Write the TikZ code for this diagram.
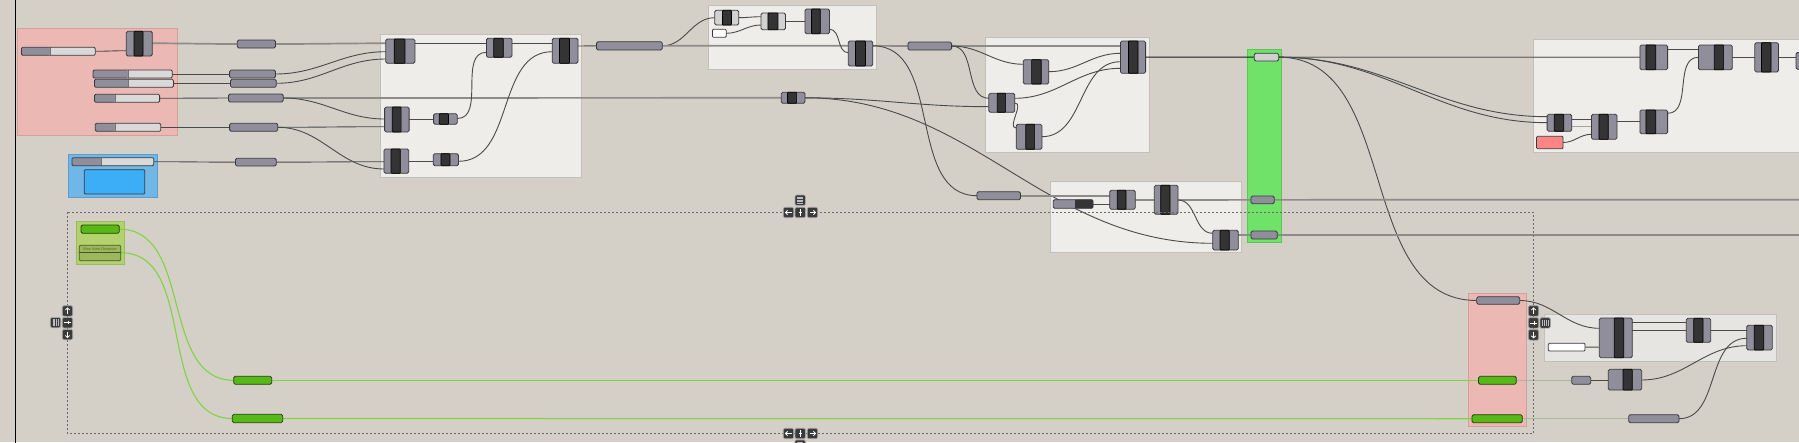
\documentclass[tikz,border=0pt]{standalone}
\usepackage{fontspec}
\setsansfont{Liberation Sans}
\definecolor{canvas}{HTML}{D4D0C8}
\definecolor{grpfill}{HTML}{EEEDE9}
\definecolor{grpline}{HTML}{C2C0BA}
\definecolor{grpsixfill}{HTML}{E6E5E1}
\definecolor{redfill}{HTML}{ECB8B4}
\definecolor{redline}{HTML}{D69F9A}
\definecolor{bluefill}{HTML}{70B6E6}
\definecolor{blueline}{HTML}{5A9ECF}
\definecolor{bluepanel}{HTML}{3CAEF7}
\definecolor{greenfill}{HTML}{70E26A}
\definecolor{greenline}{HTML}{5CC657}
\definecolor{olivefill}{HTML}{B3D26E}
\definecolor{oliveline}{HTML}{9CBB5E}
\definecolor{compside}{HTML}{8F8E9A}
\definecolor{compline}{HTML}{3A3A3E}
\definecolor{lightside}{HTML}{D2D2D2}
\definecolor{coredark}{HTML}{343434}
\definecolor{sliderlt}{HTML}{D9D9D9}
\definecolor{greenparam}{HTML}{56B915}
\definecolor{greenparamline}{HTML}{23400C}
\definecolor{gntwofill}{HTML}{9DB85C}
\definecolor{gntwoline}{HTML}{45552A}
\definecolor{gntwotext}{HTML}{55682E}
\definecolor{wirecol}{HTML}{4A4A4A}
\definecolor{listcol}{HTML}{8E8C88}
\definecolor{greenwire}{HTML}{80D43F}
\definecolor{fadecol}{HTML}{A9B896}
\definecolor{pinkpanel}{HTML}{FF8585}
\definecolor{navfill}{HTML}{3A3A3A}
\definecolor{navrim}{HTML}{A5A5A5}
\definecolor{dashcol}{HTML}{6A6A6A}
\definecolor{gonefill}{HTML}{D0D0D0}

\pgfdeclarelayer{bglayer}
\pgfdeclarelayer{wirelayer}
\pgfsetlayers{bglayer,wirelayer,main}

% generic rectangular node from corner coordinates
\newcommand\rnode[6][]{\node[#1, minimum width={(#5)-(#3)}, minimum height={(#6)-(#4)}] (#2) at ({((#3)+(#5))/2},{((#4)+(#6))/2}) {};}
% component with dark core
\newcommand\gcomp[8][compst]{\rnode[#1]{#2}{#3}{#4}{#5}{#6}\draw[corest] (#7,#4) rectangle (#8,#6);}
% slider
\newcommand\slider[6]{%
 \fill[sliderlt, rounded corners=1.2pt] (#2,#3) rectangle (#4,#5);
 \fill[compside, rounded corners=1.2pt] (#2,#3) rectangle (#6,#5);
 \draw[compline!70, line width=0.5pt] (#6,#3) -- (#6,#5);
 \rnode[sliderst]{#1}{#2}{#3}{#4}{#5}}
% navigation icons
\newcommand\navbox[4][navfill]{\node[navst, fill=#1] (#2) at ({#3+5.2},{#4+5.2}) {};}
\newcommand\gL[1]{\draw[glyphst] ([shift={(3,0)}]#1.center) -- ([shift={(-3,0)}]#1.center);
 \draw[glyphst] ([shift={(-0.9,-2.2)}]#1.center) -- ([shift={(-3,0)}]#1.center) -- ([shift={(-0.9,2.2)}]#1.center);}
\newcommand\gR[1]{\draw[glyphst] ([shift={(-3,0)}]#1.center) -- ([shift={(3,0)}]#1.center);
 \draw[glyphst] ([shift={(0.9,-2.2)}]#1.center) -- ([shift={(3,0)}]#1.center) -- ([shift={(0.9,2.2)}]#1.center);}
\newcommand\gU[1]{\draw[glyphst] ([shift={(0,3)}]#1.center) -- ([shift={(0,-3)}]#1.center);
 \draw[glyphst] ([shift={(-2.2,-0.9)}]#1.center) -- ([shift={(0,-3)}]#1.center) -- ([shift={(2.2,-0.9)}]#1.center);}
\newcommand\gD[1]{\draw[glyphst] ([shift={(0,-3)}]#1.center) -- ([shift={(0,3)}]#1.center);
 \draw[glyphst] ([shift={(-2.2,0.9)}]#1.center) -- ([shift={(0,3)}]#1.center) -- ([shift={(2.2,0.9)}]#1.center);}
\newcommand\gV[1]{\draw[glyphst] ([shift={(0,-3.5)}]#1.center) -- ([shift={(0,3.5)}]#1.center);
 \draw[glyphst] ([shift={(-1.6,-0.6)}]#1.center) -- ([shift={(1.6,-0.6)}]#1.center);}
\newcommand\gH[1]{\draw[glyphst] ([shift={(-3.5,0)}]#1.center) -- ([shift={(3.5,0)}]#1.center);
 \draw[glyphst] ([shift={(0.6,-1.6)}]#1.center) -- ([shift={(0.6,1.6)}]#1.center);}
\newcommand\gM[1]{\foreach \d in {-3,-1.5,0,1.5,3}{\draw[glyphst, line width=0.45pt, draw=white!75!black] ([shift={(-3,\d)}]#1.center) -- ([shift={(3,\d)}]#1.center);}}
\newcommand\gB[1]{\foreach \d in {-2.7,-0.9,0.9,2.7}{\draw[glyphst, line width=0.5pt, draw=white!75!black] ([shift={(\d,-3.3)}]#1.center) -- ([shift={(\d,3.3)}]#1.center);}}

\begin{document}
\begin{tikzpicture}[x=1pt,y=-1pt,
 compst/.style={draw=compline, fill=compside, line width=0.8pt, rounded corners=1.5pt, inner sep=0pt, outer sep=0pt},
 lcompst/.style={compst, fill=lightside},
 corest/.style={draw=black, fill=coredark, line width=0.7pt, rounded corners=0.8pt},
 paramst/.style={draw=compline, fill=compside, line width=0.8pt, rounded corners=1.5pt, inner sep=0pt, outer sep=0pt},
 lparamst/.style={paramst, fill=gonefill},
 gparamst/.style={paramst, draw=greenparamline, fill=greenparam},
 sliderst/.style={draw=compline, line width=0.8pt, rounded corners=1.2pt, inner sep=0pt, outer sep=0pt},
 panelst/.style={draw=compline, line width=0.8pt, rounded corners=1pt, inner sep=0pt, outer sep=0pt},
 gntwost/.style={draw=gntwoline, fill=gntwofill, line width=0.8pt, rounded corners=1pt, inner sep=0pt, outer sep=0pt},
 grpgray/.style={fill=grpfill, draw=grpline, line width=0.9pt},
 grpred/.style={fill=redfill, draw=redline, line width=0.9pt},
 grpblue/.style={fill=bluefill, draw=blueline, line width=0.9pt},
 grpgreen/.style={fill=greenfill, draw=greenline, line width=0.9pt},
 grpolive/.style={fill=olivefill, draw=oliveline, line width=0.9pt},
 wire/.style={draw=wirecol, line width=0.9pt},
 lwire/.style={draw=listcol, line width=1.7pt},
 lwiretwo/.style={draw=listcol!85!black, line width=1.2pt},
 lwirethree/.style={draw=listcol!80!white, line width=1.2pt},
 blackwire/.style={draw=black!90, line width=1pt},
 gwire/.style={draw=greenwire, line width=1.1pt},
 fadewire/.style={draw=fadecol, line width=1.1pt},
 gh/.style={out=0,in=180},
 navst/.style={draw=navrim, line width=0.7pt, rounded corners=1.3pt, minimum size=10.4pt, inner sep=0pt},
 glyphst/.style={draw=white, line width=0.8pt},
 dashbox/.style={draw=dashcol, line width=0.8pt, dash pattern=on 2pt off 2pt}
]
\useasboundingbox (0,0) rectangle (1799,442);

\begin{pgfonlayer}{bglayer}
\fill[canvas] (0,0) rectangle (1799,442);
\draw[black, line width=1.5pt] (15.3,-2) -- (15.3,444);
% groups
\draw[grpred] (17.6,28) rectangle (177.6,135);
\draw[grpblue] (68.1,154) rectangle (157.7,197.5);
\draw[grpgray] (380,34.7) rectangle (581.3,177.3);
\draw[grpgray] (708.6,5.3) rectangle (876.6,69.3);
\draw[grpgray] (985.7,37.7) rectangle (1149.5,152.3);
\draw[grpgray] (1050,181.7) rectangle (1241.3,252.3);
\draw[grpgreen] (1247.5,49.3) rectangle (1281.8,242.7);
\draw[grpgray] (1533.3,39.3) rectangle (1812,152);
\draw[grpolive] (76.3,221.7) rectangle (124,264);
\draw[grpred] (1468.3,293.3) rectangle (1526,426.7);
\draw[grpgray, fill=grpsixfill] (1544.7,314.3) rectangle (1776.3,361);
\end{pgfonlayer}

% ---------- sliders ----------
\slider{SA}{21.4}{47.3}{95.3}{55.3}{49.8}
\slider{SB}{93}{70}{172.2}{78}{127.8}
\slider{SC}{94.5}{79.3}{173.4}{87.3}{128.6}
\slider{SD}{94.5}{94.3}{159.6}{102.3}{114.8}
\slider{SE}{95.3}{123.3}{160.8}{131.3}{114.8}
\slider{SF}{72}{157.7}{153.8}{165.7}{101.4}

% ---------- panels ----------
\rnode[panelst, fill=bluepanel]{BP}{84.2}{169.7}{144.7}{194}
\rnode[panelst, fill=white]{WA}{712.4}{29.3}{726.2}{37.3}
\rnode[panelst, fill=pinkpanel]{PK}{1536.5}{136.3}{1563}{148.7}
\rnode[panelst, fill=white]{WB}{1548.3}{343.3}{1585}{351}

% ---------- components ----------
\gcomp{boxA}{126.3}{31.3}{152.3}{56}{134}{143}
\gcomp{A}{385.8}{39}{414.9}{63.3}{394.2}{404.9}
\gcomp{B}{486.4}{38.3}{512}{57.3}{493.7}{503.3}
\gcomp{C}{552.2}{38.3}{578}{63.3}{559.5}{569.5}
\gcomp{D}{384.6}{107}{409.1}{132}{392.3}{401.1}
\gcomp{E}{433.6}{113.7}{457.3}{124.3}{439.3}{448.5}
\gcomp{F}{383.9}{149}{408.7}{173.3}{391}{400.3}
\gcomp{G}{433.2}{153.7}{458.5}{165.7}{440.9}{450}
\gcomp[lcompst]{H}{714.7}{10.3}{738.8}{25}{722.4}{731.5}
\gcomp[lcompst]{I}{761}{13}{785.5}{29.7}{767.9}{777.9}
\gcomp{J}{805}{9}{829.5}{33.7}{811.5}{820.3}
\gcomp{K}{848.3}{41}{872.8}{66}{855.5}{865.5}
\gcomp{L}{781.3}{92.3}{805}{103.3}{787.4}{796.6}
\gcomp{N}{1023.2}{59.7}{1048.8}{84}{1031.6}{1041.2}
\gcomp{M}{988.8}{93.3}{1014.8}{112.3}{997.1}{1005.6}
\gcomp{O}{1016.2}{124.3}{1041.9}{149.3}{1025.8}{1034.6}
\gcomp{Q}{1120.4}{41}{1145.6}{73.3}{1128.4}{1138}
\gcomp{AA}{1109.7}{190.3}{1135.3}{209.3}{1117.3}{1126}
\gcomp{BB}{1154.3}{185.3}{1178}{214.3}{1160.7}{1170}
\gcomp{CC}{1212.7}{230.3}{1238.3}{250}{1220}{1229.3}
\gcomp{S}{1547.1}{114.3}{1571.8}{131.3}{1554.3}{1563.7}
\gcomp{T}{1591.4}{114.3}{1617}{139.3}{1598.9}{1608.3}
\gcomp{U}{1639.9}{110}{1667.6}{133.7}{1645.9}{1655.7}
\gcomp{R}{1639.9}{45}{1667.6}{69.7}{1645.9}{1655.7}
\gcomp{V}{1698.4}{45}{1732.3}{69.7}{1714.1}{1723.6}
\gcomp{W}{1754.8}{42.7}{1778.5}{72}{1761.5}{1771}
\gcomp{X}{1796}{52.5}{1822}{69.3}{1804}{1813}
\gcomp{DD}{1599.3}{318}{1632.3}{357.7}{1614.3}{1623.7}
\gcomp{EE}{1686.3}{318.3}{1710.7}{342.3}{1693.7}{1703}
\gcomp{FF}{1746.7}{325.3}{1772.3}{350}{1754.3}{1763.7}
\gcomp{GG}{1608.3}{369.3}{1641.7}{390}{1623}{1632.3}

% ---------- parameters ----------
\rnode[paramst]{PA}{237.3}{40}{275.5}{48}
\rnode[paramst]{PB}{229.6}{70}{275.5}{78}
\rnode[paramst]{PC}{230.4}{79.3}{276.3}{87.3}
\rnode[paramst]{PD}{228.5}{94}{283.2}{102}
\rnode[paramst]{PE}{229.6}{123.3}{277.8}{131.3}
\rnode[paramst]{PF}{235.4}{158.3}{276.3}{166}
\rnode[paramst]{PG}{596.5}{41.7}{662.3}{50}
\rnode[paramst]{PH}{908}{42}{951.6}{50}
\rnode[paramst]{PI}{976.9}{191.7}{1020.5}{199.7}
\rnode[lparamst]{GA}{1254.2}{53.3}{1278.7}{61}
\rnode[paramst]{GB}{1251}{196}{1274.3}{203.7}
\rnode[paramst]{GC}{1251}{231}{1277.3}{239}
\rnode[paramst]{PPA}{1476.7}{296.7}{1519.7}{304.3}
\rnode[paramst]{SP}{1571.7}{376.3}{1590.7}{384.3}
\rnode[paramst]{HP}{1628.7}{414.7}{1679}{422.7}
\rnode[gparamst]{GNA}{81}{225}{119.3}{233.3}
\rnode[gparamst]{GPA}{233.7}{376.3}{271.7}{384.3}
\rnode[gparamst]{GPB}{232.3}{414.3}{282.7}{422.7}
\rnode[gparamst]{PPB}{1478.5}{376.3}{1516.3}{384.3}
\rnode[gparamst]{PPC}{1472}{414.7}{1522.3}{422.7}
% two-tone value parameter
\fill[compside, rounded corners=1.2pt] (1053.3,199.7) rectangle (1093,208.3);
\fill[coredark, rounded corners=1pt] (1075,199.7) rectangle (1093,208.3);
\rnode[sliderst]{Z}{1053.3}{199.7}{1093}{208.3}
% Max View Distance element
\rnode[gntwost]{GNB}{79.3}{245.3}{120.7}{260.7}
\draw[gntwoline, line width=0.8pt] (GNB.west |- 0,252.3) -- (GNB.east |- 0,252.3);
\node[font=\sffamily\fontsize{3.9}{4}\selectfont, text=gntwotext, inner sep=0pt] (GNBt) at (100,248.9) {Max View Distance};

% free ends at the right border
\coordinate (edgeB) at (1799,199.8);
\coordinate (edgeC) at (1799,235);

% ---------- wires ----------
\begin{pgfonlayer}{wirelayer}
\draw[wire] (SA.east) to[gh] (boxA.west |- 0,50.7);
\draw[lwire] (boxA.east |- 0,43.3) to[gh] (PA.west);
\draw[lwire] (PA.east) to[gh] (A.west |- 0,43.3);
\draw[wire] (SB.east) -- (PB.west);
\draw[wire] (SC.east) -- (PC.west);
\draw[wire] (PB.east) to[gh] (A.west |- 0,51.7);
\draw[wire] (PC.east) to[gh] (A.west |- 0,59);
\draw[wire] (SD.east) -- (PD.west);
\draw[lwire] (PD.east) -- (L.west);
\draw[wire] (PD.east) to[gh] (D.west |- 0,119);
\draw[wire] (SE.east) -- (PE.west);
\draw[wire] (PE.east) to[gh] (D.west |- 0,126.7);
\draw[wire] (PE.east) to[gh] (F.west |- 0,169);
\draw[wire] (SF.east) to[gh] (PF.west);
\draw[wire] (PF.east) to[gh] (F.west |- 0,161.7);
\draw[wire] (A.east |- 0,43.3) -- (B.west |- 0,43.3);
\draw[wire] (B.east |- 0,43.3) -- (C.west |- 0,43.3);
\draw[wire] (D.east |- 0,119) -- (E.west |- 0,119);
\draw[wire] (E.east |- 0,118.5) to[gh] (B.west |- 0,52.3);
\draw[wire] (F.east |- 0,161.7) -- (G.west |- 0,161.7);
\draw[wire] (G.east |- 0,161.3) to[gh] (C.west |- 0,51.7);
\draw[wire] (C.east |- 0,46) -- (PG.west);
\draw[wire] (PG.east) to[gh] (H.west |- 0,17.7);
\draw[lwire] (PG.east) -- (K.west |- 0,45.8);
\draw[wire] (H.east |- 0,17.7) to[gh] (I.west |- 0,16.7);
\draw[wire] (WA.east) to[gh] (I.west |- 0,25);
\draw[wire] (I.east |- 0,21.3) -- (J.west |- 0,21.3);
\draw[wire] (J.east |- 0,29.3) to[gh] (K.west |- 0,52.7);
\draw[lwire] (K.east |- 0,45.8) -- (PH.west);
\draw[wire] (K.east |- 0,45.8) to[gh] (PI.west);
\draw[lwire] (PH.east) -- (Q.west |- 0,46);
\draw[wire] (PH.east) to[gh] (N.west |- 0,64.3);
\draw[wire] (PH.east) to[gh] (M.west |- 0,98.3);
\draw[wire] (L.east) to[gh] (M.west |- 0,106.7);
\draw[wire] (L.east) to[gh] (CC.west |- 0,243.3);
\draw[wire] (N.east |- 0,71.7) to[gh] (Q.west |- 0,53.3);
\draw[wire] (M.east |- 0,98.3) to[gh] (Q.west |- 0,68.3);
\draw[wire] (M.east |- 0,103) to[gh] (O.west |- 0,128);
\draw[wire] (O.east |- 0,136.7) to[gh] (Q.west |- 0,61.7);
\draw[blackwire] (Q.east |- 0,57.1) -- (GA.west);
\draw[lwiretwo] (GA.east) -- (R.west |- 0,57.2);
\draw[wire] (GA.east) to[gh] (S.west |- 0,116.7);
\draw[wire] (GA.east) to[gh] (S.west |- 0,122.7);
\draw[wire] (GA.east) to[gh] (PPA.west);
\draw[lwire] (PI.east) -- (AA.west |- 0,195.7);
\draw[wire] (Z.east) -- (AA.west |- 0,204);
\draw[lwire] (AA.east |- 0,200) -- (BB.west |- 0,200);
\draw[lwire] (BB.east |- 0,200) -- (GB.west);
\draw[wire] (BB.east |- 0,200) to[gh] (CC.west |- 0,233.3);
\draw[lwire] (CC.east |- 0,235) -- (GC.west);
\draw[lwire] (GB.east) -- (edgeB);
\draw[lwire] (GC.east) -- (edgeC);
\draw[wire] (S.east |- 0,119) -- (T.west |- 0,119);
\draw[lwirethree] (S.east |- 0,126.7) -- (T.west |- 0,126.7);
\draw[wire] (PK.east) to[gh] (T.west |- 0,134.3);
\draw[wire] (T.east |- 0,121.3) -- (U.west |- 0,121.3);
\draw[wire] (U.east |- 0,113.3) to[gh] (V.west |- 0,57.3);
\draw[wire] (R.east |- 0,49.3) -- (V.west |- 0,49.3);
\draw[wire] (V.east |- 0,57) -- (W.west |- 0,57);
\draw[wire] (W.east |- 0,57) -- (X.west |- 0,57);
\draw[wire] (PPA.east) to[gh] (DD.west |- 0,328.3);
\draw[wire] (WB.east) -- (DD.west |- 0,347.2);
\draw[wire] (DD.east |- 0,322.3) -- (EE.west |- 0,322.3);
\draw[wire] (DD.east |- 0,330.3) -- (EE.west |- 0,330.3);
\draw[wire] (EE.east |- 0,330.3) -- (FF.west |- 0,330.3);
\draw[wire] (GG.east |- 0,380) to[gh] (FF.west |- 0,345.7);
\draw[wire] (HP.east) to[gh] (FF.west |- 0,338.3);
\draw[wire] (SP.east) -- (GG.west |- 0,380.3);
\draw[gwire] (GNA.east) to[gh] (GPA.west);
\draw[gwire] (GNB.east |- 0,252.7) to[gh] (GPB.west);
\draw[gwire] (GPA.east) -- (PPB.west);
\draw[gwire] (GPB.east) -- (PPC.west);
\draw[fadewire] (PPB.east) -- (SP.west);
\draw[fadewire] (PPC.east) -- (HP.west);
\end{pgfonlayer}

% ---------- selection box and widgets ----------
\draw[dashbox] (67.3,212.3) rectangle (1533.5,433.3);

\navbox{tmenu}{795}{195}\gM{tmenu}
\navbox{tleft}{783.3}{207.3}\gL{tleft}
\navbox{tmid}{795}{207.3}\gV{tmid}
\navbox{tright}{807.3}{207.3}\gR{tright}

\navbox{bleft}{783.3}{428.3}\gL{bleft}
\navbox{bmid}{795}{428.3}\gV{bmid}
\navbox{bright}{807.3}{428.3}\gR{bright}
\navbox{bmenu}{795}{439.9}\gM{bmenu}

\navbox{lup}{62.3}{305.7}\gU{lup}
\navbox{lmid}{62.3}{317.6}\gH{lmid}
\navbox{ldown}{62.3}{329.4}\gD{ldown}
\navbox{lbars}{50.3}{317.4}\gB{lbars}

\navbox{rup}{1528.3}{305.7}\gU{rup}
\navbox{rmid}{1528.3}{317.7}\gH{rmid}
\navbox{rdown}{1528.3}{329.7}\gD{rdown}
\navbox{rbars}{1540}{317.7}\gB{rbars}
\end{tikzpicture}
\end{document}
